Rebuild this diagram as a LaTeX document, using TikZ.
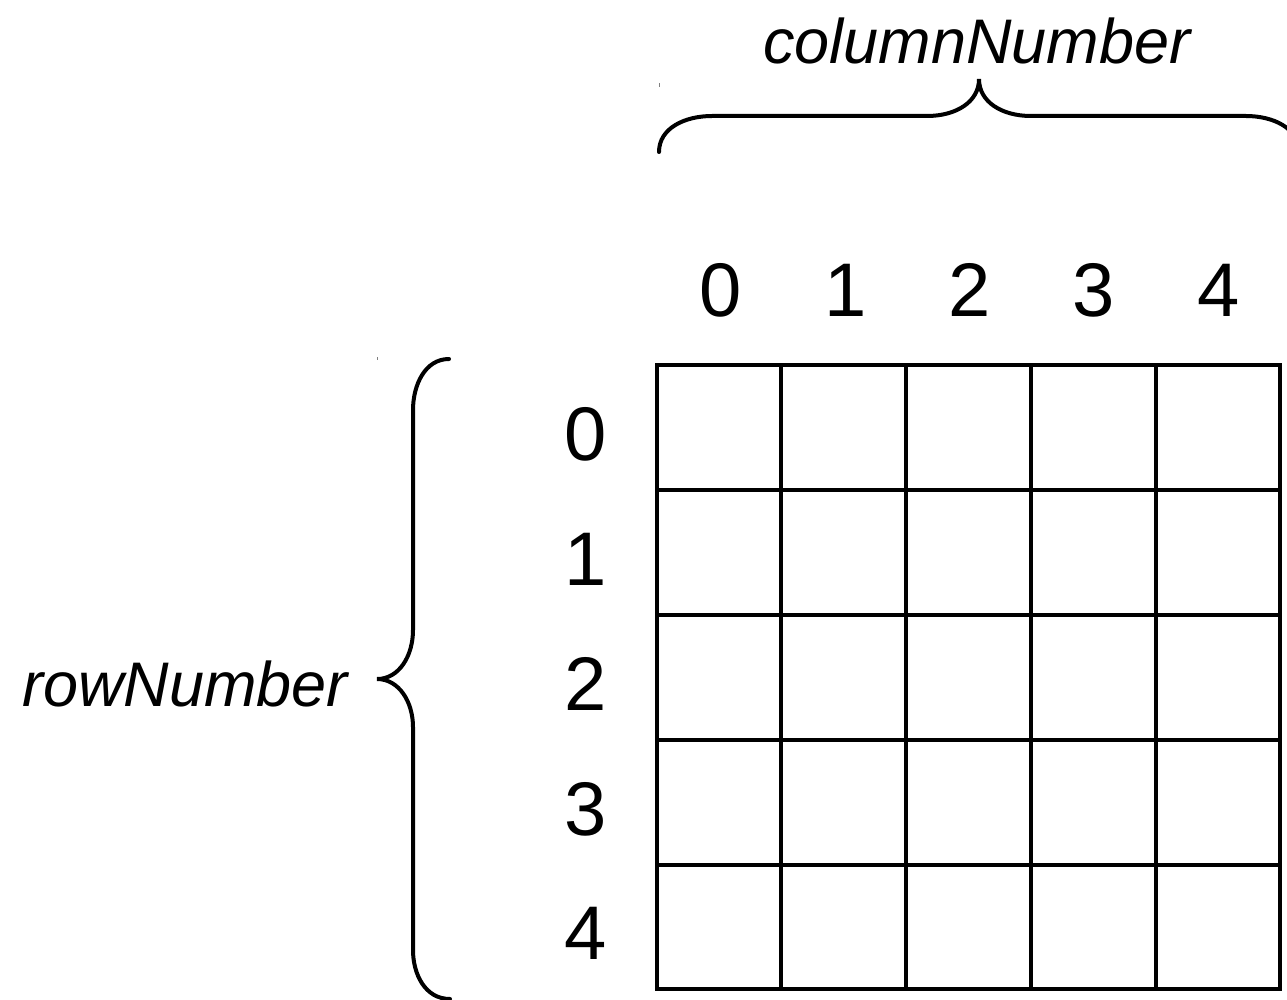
\documentclass[tikz,border=0pt]{standalone}
\usepackage{fontspec}
\setmainfont{Liberation Sans}
\begin{document}
\begin{tikzpicture}[x=1pt,y=-1pt,
  gridline/.style={line width=4pt, line cap=rect},
  bracepath/.style={line width=4pt, line cap=round},
  digit/.style={inner sep=0pt, anchor=base, font=\fontsize{76}{90}\selectfont},
  label/.style={inner sep=0pt, font=\fontsize{63}{76}\selectfont\itshape},
  tick/.style={line width=1pt, gray}]
\useasboundingbox (0,0) rectangle (1287,1000);
% grid
\foreach \x in {657,781,906,1031,1156,1280}
  \draw[gridline] (\x,365) -- (\x,989);
\foreach \y in {365,490,615,740,865,989}
  \draw[gridline] (657,\y) -- (1280,\y);
% column numbers
\foreach \i/\x in {0/721,1/846,2/970,3/1094,4/1219}
  \node[digit] (c\i) at (\x,316) {\i};
% row numbers
\foreach \i/\y in {0/460,1/585,2/710,3/835,4/959}
  \node[digit] (r\i) at (586,\y) {\i};
% labels
\node[label, anchor=base] (colLabel) at (977,64) {columnNumber};
\node[label, anchor=base west] (rowLabel) at (22,706) {rowNumber};
% top brace
\coordinate (tb) at (979,79);
\draw[bracepath] (659,152) .. controls (659,128) and (685,116) .. (712,116)
  -- (927,116) .. controls (956,116) and (979,102) .. (tb)
  .. controls (979,102) and (1002,116) .. (1031,116)
  -- (1246,116) .. controls (1273,116) and (1299,128) .. (1299,152);
% left brace
\coordinate (lb) at (377,679);
\draw[bracepath] (449,359) .. controls (425,359) and (413,385) .. (413,410)
  -- (413,630) .. controls (413,656) and (399,679) .. (lb)
  .. controls (399,679) and (413,702) .. (413,727)
  -- (413,950) .. controls (413,974) and (425,999) .. (450,999);
% tiny marks
\draw[tick] (659,83) -- (659,87);
\draw[tick] (377,357) -- (377,360);
\end{tikzpicture}
\end{document}
